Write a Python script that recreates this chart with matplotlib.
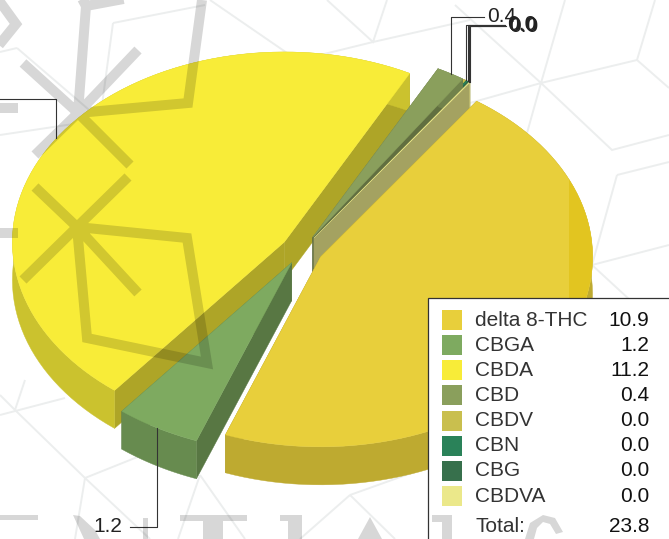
#!/bin/env python
import numpy as np
import matplotlib as mpl
mpl.use("agg", force=True)
import matplotlib.pyplot as plt
from matplotlib.path import Path
from matplotlib.patches import PathPatch, Rectangle

plt.rcParams['font.family'] = ['Liberation Sans', 'DejaVu Sans']

# chart data, the last four round to 0.0 but still take a sliver of the pie
names = ['delta 8-THC', 'CBGA', 'CBDA', 'CBD', 'CBDV', 'CBN', 'CBG', 'CBDVA']
values = [10.94, 1.2, 11.16, 0.4, 0.04, 0.03, 0.02, 0.01]
total = 23.8
colors = ['#E8CF3B', '#7EAA60', '#F8EC38', '#8A9F5C',
          '#C9BF4E', '#2A8259', '#37704C', '#EBE88A']

# pie geometry, in pixels
cx, cy = 302, 250
rx, ry = 272, 190
depth = 38
explode = 21
start_angle = 35
draw_order = ['CBDA', 'CBDV', 'CBN', 'CBG', 'CBD', 'CBDVA', 'CBGA', 'delta 8-THC']

# leader elbow: name -> (elbow y, end x)
leaders = {'CBGA': (527, 130), 'CBDA': (99, -5), 'CBD': (17, 484),
           'CBDV': (25, 504), 'CBN': (25.4, 504.7), 'CBG': (25.8, 505.4), 'CBDVA': (26.2, 506.1)}

# watermark, thick strokes, letter blocks and thin net (background picture, not data)
thick_strokes = [
    [(77, 227), (128, 177)], [(77, 227), (35, 187)], [(77, 227), (23, 280)],
    [(77, 227), (138, 293)], [(77, 227), (187, 238), (207, 363), (87, 338), (77, 227)],
    [(0, 233), (18, 233)], [(0, 108), (18, 108)],
    [(78, 113), (23, 63)], [(78, 113), (35, 155)], [(78, 113), (138, 50)],
    [(78, 113), (130, 165)], [(78, 113), (188, 103), (202, 0)],
    [(78, 113), (86, 6), (145, -5)], [(86, 6), (80, -5)],
    [(-5, -5), (16, 24), (-5, 50)],
]
letter_blocks = [
    [(0, 515), (38, 515), (38, 520), (0, 520)],
    [(73, 515), (80, 516), (95, 530), (100, 539), (84, 539)],
    [(143, 518), (148, 518), (148, 539), (143, 539)],
    [(180, 515), (247, 515), (247, 521), (223, 521), (223, 539), (203, 539), (203, 521), (180, 521)],
    [(280, 515), (302, 515), (302, 539), (288, 539), (288, 521), (280, 521)],
    [(370, 517), (382, 539), (358, 539)],
    [(432, 515), (452, 515), (452, 539), (442, 539), (442, 522), (432, 522)],
    [(525, 539), (530, 523), (543, 515), (555, 518), (563, 532), (556, 534), (550, 524),
     (543, 522), (537, 528), (534, 539)],
]
thin_net = [
    [(541, 83), (637, 60), (655, 0)], [(637, 60), (669, 88)], [(541, 83), (470, 103)],
    [(541, 83), (565, 0)], [(541, 83), (455, 5)], [(541, 83), (612, 150), (669, 135)],
    [(541, 83), (527, 133)], [(617, 175), (669, 162)], [(617, 175), (592, 265), (669, 245)],
    [(592, 265), (630, 300)], [(327, 0), (373, 42), (387, 0)], [(373, 42), (470, 20)],
    [(373, 42), (320, 55)], [(113, 23), (205, 5)], [(113, 23), (100, 120), (0, 135)],
    [(17, 48), (0, 52)], [(17, 48), (95, 115)], [(210, 0), (290, 55)],
    [(0, 395), (15, 410), (85, 478), (75, 539)], [(15, 410), (25, 380)],
    [(0, 415), (65, 398)], [(85, 478), (140, 456)], [(85, 478), (150, 539)],
    [(200, 475), (245, 539)], [(200, 475), (178, 539)], [(350, 495), (300, 539)],
    [(350, 495), (420, 470)], [(350, 495), (395, 539)],
]


def shade(color, k):
    return tuple(c * k for c in mpl.colors.to_rgb(color))


def rim_point(a, ox, oy):
    # a is clockwise from north, degrees
    t = np.radians(a)
    return ox + rx * np.sin(t), oy - ry * np.cos(t)


def stroke_path(strokes, closed=False):
    verts, codes = [], []
    for s in strokes:
        for i, p in enumerate(s):
            verts.append(p)
            codes.append(Path.MOVETO if i == 0 else Path.LINETO)
        if closed:
            verts.append(s[0])
            codes.append(Path.CLOSEPOLY)
    return Path(verts, codes)


fig = plt.figure(figsize=(6.69, 5.39), dpi=100)
ax = fig.add_axes([0, 0, 1, 1])
ax.set_xlim(0, 669)
ax.set_ylim(539, 0)
ax.axis('off')

ax.add_patch(PathPatch(stroke_path(thin_net), fill=False, edgecolor='#ECEEEE', lw=1.4, zorder=1))

sweeps = np.array(values) / sum(values) * 360
starts = start_angle + np.concatenate([[0], np.cumsum(sweeps)[:-1]])

z = 2
anchors = {}
top_patches = {}
for name in draw_order:
    i = names.index(name)
    a0, a1 = starts[i], starts[i] + sweeps[i]
    mid = (a0 + a1) / 2
    t = np.radians(mid)
    ox = cx + explode * np.sin(t)
    oy = cy - explode * 0.7 * np.cos(t)
    # very thin slices get their leader from the far edge
    anchors[name] = rim_point(a1 if sweeps[i] < 2 else mid, ox, oy)

    arc = np.linspace(a0, a1, 80)
    xs, ys = rim_point(arc, ox, oy)
    for a in (a0, a1):
        ex, ey = rim_point(a, ox, oy)
        ax.fill([ox, ex, ex, ox], [oy, ey, ey + depth, oy + depth],
                color=shade(colors[i], 0.7), lw=0.3, zorder=z)
        z += 1
    ax.fill(np.r_[xs, xs[::-1]], np.r_[ys, ys[::-1] + depth],
            color=shade(colors[i], 0.82), lw=0.3, zorder=z)
    z += 1
    top_patches[name] = ax.fill(np.r_[ox, xs], np.r_[oy, ys], color=colors[i], lw=0.3, zorder=z)[0]
    z += 1

# darker band on the right of the first slice
band = Rectangle((569, 100), 60, 300, color='#E2C520', lw=0, zorder=z)
ax.add_patch(band)
band.set_clip_path(top_patches['delta 8-THC'])
z += 1

# leaders and labels
for name, value in zip(names, values):
    if name not in leaders:
        continue
    ex, ey = anchors[name]
    ly, lx = leaders[name]
    ax.plot([ex, ex, lx], [ey, ly, ly], color='#333333', lw=0.8, zorder=z)
    if lx > ex:
        ax.text(lx + 3, ly, f'{value:.1f}', fontsize=15, color='#222222', va='center', ha='left', zorder=z)
    else:
        ax.text(lx - 8, ly, f'{value:.1f}', fontsize=15, color='#222222', va='center', ha='right', zorder=z)

# legend
z += 1
ax.add_patch(Rectangle((428, 298), 260, 270, facecolor='white', edgecolor='#333333', lw=0.9, zorder=z))
row_y = 320
for name, value, color in zip(names, values, colors):
    ax.add_patch(Rectangle((442, row_y - 10), 20, 20, facecolor=color, lw=0, zorder=z + 1))
    ax.text(475, row_y, name, fontsize=15, color='#333333', va='center', ha='left', zorder=z + 1)
    ax.text(649, row_y, f'{value:.1f}', fontsize=15, color='#111111', va='center', ha='right', zorder=z + 1)
    row_y += 25.15
ax.text(475, 527, 'Total:', fontsize=15, color='#333333', va='center', ha='left', zorder=z + 1)
ax.text(649, 527, f'{total:.1f}', fontsize=15, color='#111111', va='center', ha='right', zorder=z + 1)

# thick watermark strokes darken whatever is under them
ax.add_patch(PathPatch(stroke_path(thick_strokes), fill=False, edgecolor='black', alpha=0.155,
                       lw=7.2, capstyle='butt', joinstyle='miter', zorder=z + 2))
ax.add_patch(PathPatch(stroke_path(letter_blocks, closed=True), facecolor='black', edgecolor='none',
                       alpha=0.155, zorder=z + 2))

fig.savefig('out.png', dpi=100)
plt.close()
